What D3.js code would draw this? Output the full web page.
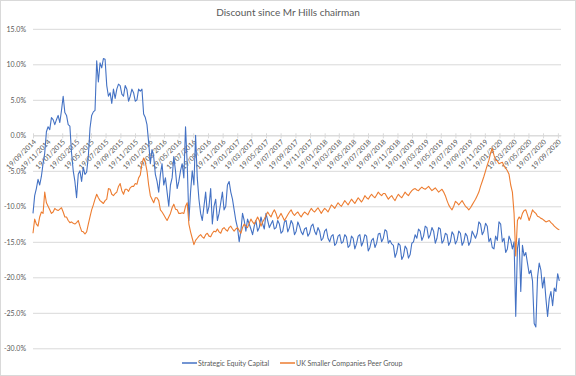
<!DOCTYPE html>
<html>
<head>
<meta charset="utf-8">
<script src="https://cdnjs.cloudflare.com/ajax/libs/d3/7.8.5/d3.min.js"></script>
<style>
  body { margin: 0; background: #fff; }
  text { font-family: Lato, "Liberation Sans", sans-serif; fill: #595959; }
</style>
</head>
<body>
<div id="container"></div>
<script>
// data: weekly readings, % discount (10 weeks per row)
var startDate = "19/09/2014",
    endDate = "02/10/2020",
    stepDays = 7;

var secValues = [
  -11, -8.5, -7.5, -6.2, -7, -5.8, -4, -2.5, 0.5, 1.2,
  0.8, 2.5, 2.2, 1.5, 2.2, 2.8, 1.8, 3.5, 5.5, 3.2,
  2.8, 1.5, 1.3, -2.5, -5, -6.5, -8.8, -5.5, -5, -6.5,
  -4.5, -5.5, -5.2, -3, 1, 2.8, 3.3, 3.5, 10.5, 7.5,
  10.2, 9.5, 10.8, 10.7, 7, 5.5, 6, 4.5, 6.5, 5.2,
  6.5, 7.2, 7, 5.8, 5.5, 7, 6.5, 4.8, 5.5, 6.5,
  6, 4.8, 5, 6.5, 6.2, 6.5, 3, 2.5, 1.5, -1,
  -4, -2, -3, -5.5, -6.5, -8, -5.5, -4, -7, -6,
  -8, -10, -7, -6, -3, -5, -7.5, -6.5, -5, -4,
  -6, 1.2, -4, -12, -8, -5, -7, 0, -6, -9,
  -11, -12, -10, -8, -11, -10, -7.5, -12.5, -10, -9,
  -12, -11, -9.5, -8, -10.5, -10, -7, -6.5, -8, -9,
  -10.5, -12, -13, -15, -13.5, -11, -12, -13.5, -11.8, -12.5,
  -13.2, -14, -12.8, -12, -13.5, -13, -11.5, -12.5, -13.2, -11,
  -12, -13, -12.5, -12, -13.2, -13, -12, -12.5, -13.8, -13.5,
  -12.2, -12, -13.6, -13, -12, -12.5, -14, -13.5, -12.2, -12.8,
  -13.6, -14, -13.2, -13, -14.2, -13.8, -12.8, -12.5, -13.5, -14,
  -13, -13.5, -14.8, -14.5, -13.5, -13.2, -14.5, -15, -14.2, -14,
  -15.5, -15.2, -14.2, -14, -15.2, -15, -14, -14.3, -15.8, -15.5,
  -14.2, -14.5, -16, -15.3, -14.2, -14, -15.6, -15, -14, -14.2,
  -16.3, -15.8, -14.8, -14.5, -15.8, -15.2, -13.9, -13.8, -15, -14.5,
  -13.3, -13.5, -15.2, -14.8, -15.3, -15.5, -17.2, -16.5, -15.2, -15.5,
  -17.5, -17, -15.6, -16, -17.3, -16.8, -15.2, -15, -14, -14.5,
  -13.2, -13.5, -14.8, -14.2, -12.8, -13, -14.5, -14, -13, -13.5,
  -15.2, -14.5, -13, -13.2, -15.2, -14.8, -13.8, -14, -15.5, -15,
  -13.6, -14, -15.3, -14.8, -13.5, -13.8, -15.5, -15, -13.8, -14.2,
  -15.5, -15, -13.5, -14, -14.5, -13.8, -12.2, -12.5, -14, -13.5,
  -12.4, -12.8, -15, -14.5, -15.8, -16, -14.2, -14.8, -12.2, -12.5,
  -15, -14.5, -16.5, -16, -14.2, -14.8, -16, -15, -25.5, -16,
  -14.5, -22, -15.5, -17, -16.5, -18, -19.5, -19, -20.5, -26.5,
  -27, -20, -18, -19, -21.5, -20, -23, -25.5, -23, -22,
  -24, -21.5, -22, -19.5, -20.5
];

var peerValues = [
  -13.8, -11.8, -12.5, -12.8, -11.5, -10.8, -11, -8, -9.5, -10,
  -10.5, -11, -10.8, -10.3, -10.5, -10.6, -10.4, -10.2, -10.8, -11.5,
  -11.5, -12, -12.3, -12.2, -12.4, -12.5, -12.3, -12, -12.8, -13.5,
  -13.6, -13.9, -13.6, -12.5, -11.5, -10.5, -9.8, -9, -8.3, -8.8,
  -9.2, -9.4, -9.6, -9.2, -9, -7.5, -7.6, -8.3, -8.5, -8.2,
  -8, -7.2, -6.8, -7.8, -8.3, -7.6, -7.6, -7.9, -7.4, -7.2,
  -7.2, -6.8, -6.9, -6, -5.6, -4, -3.2, -3.8, -5, -7,
  -8.5, -9, -9.5, -8.8, -8.8, -9.2, -10.5, -10.8, -11.2, -11.6,
  -12, -11.5, -11, -10.2, -9.7, -10.4, -10.5, -11, -11, -10.9,
  -11, -10, -9.5, -12.5, -13.6, -14.5, -15.4, -14.8, -14.5, -14.2,
  -14, -14.3, -14.5, -14, -13.8, -14.2, -14.3, -13.8, -13.5, -13.6,
  -13.2, -13.6, -13.8, -13.2, -13, -13.3, -13.5, -13, -12.8, -13.2,
  -13.5, -13.2, -13, -13.4, -13.8, -13, -12.5, -12.8, -13, -12.4,
  -11.8, -12.2, -12.5, -12, -11.5, -12, -12.8, -12.2, -11.8, -11.3,
  -10.8, -11.2, -11.5, -10.9, -10.5, -11, -11.8, -11.4, -11, -11.5,
  -12, -11.6, -11.2, -10.8, -10.5, -11, -11.3, -11, -10.8, -11.2,
  -11.5, -11.1, -10.8, -11, -11.2, -10.7, -10.3, -10.6, -10.8, -10.5,
  -10.2, -10.6, -11, -10.6, -10.3, -10.5, -10.8, -10.3, -9.8, -10,
  -10.3, -9.9, -9.5, -9.8, -10, -9.6, -9.2, -9.5, -9.8, -9.4,
  -9, -9.3, -9.6, -9.2, -8.8, -9.1, -9.4, -9, -8.5, -8.8,
  -9, -8.6, -8.3, -8.6, -8.8, -8.4, -8, -8.3, -8.5, -8.2,
  -8.2, -8.6, -9, -8.7, -8.5, -8.9, -9.2, -8.7, -8.3, -8.6,
  -8.8, -8.4, -8, -8.3, -8.5, -8.1, -7.8, -7.6, -7.5, -7.7,
  -7.8, -7.5, -7.3, -7.5, -7.6, -7.4, -7.2, -7.5, -7.8, -7.6,
  -7.4, -7.7, -8, -7.8, -7.6, -8, -8.5, -9.2, -9.8, -10.2,
  -10.5, -10, -9.3, -9.5, -9.8, -9.5, -9.2, -9.6, -10, -10.2,
  -10.5, -10.2, -9.8, -9.4, -9, -8.5, -8, -7.2, -6.5, -5.8,
  -5, -4.2, -3.5, -2.5, -1.8, -2.8, -3.5, -3.6, -4, -3.9,
  -3.8, -4.3, -4.6, -5, -5.5, -7, -8, -11, -17, -12,
  -11.5, -11.8, -11, -10.6, -10.5, -11.2, -12, -11.3, -10.5, -10.8,
  -11, -11.4, -11.5, -11.7, -11.8, -12, -12.2, -12.1, -12, -12.3,
  -12.5, -12.8, -13, -13.2, -13.3
];

var seriesNames = ["Strategic Equity Capital", "UK Smaller Companies Peer Group"];
var seriesColors = ["#4472c4", "#ed7d31"];

var yTicks = [15, 10, 5, 0, -5, -10, -15, -20, -25, -30];

var xTickLabels = [
  "19/09/2014", "19/11/2014", "19/01/2015", "19/03/2015", "19/05/2015", "19/07/2015",
  "19/09/2015", "19/11/2015", "19/01/2016", "19/03/2016", "19/05/2016", "19/07/2016",
  "19/09/2016", "19/11/2016", "19/01/2017", "19/03/2017", "19/05/2017", "19/07/2017",
  "19/09/2017", "19/11/2017", "19/01/2018", "19/03/2018", "19/05/2018", "19/07/2018",
  "19/09/2018", "19/11/2018", "19/01/2019", "19/03/2019", "19/05/2019", "19/07/2019",
  "19/09/2019", "19/11/2019", "19/01/2020", "19/03/2020", "19/05/2020", "19/07/2020",
  "19/09/2020"
];

var W = 576, H = 376;
var plot = {left: 33, right: 561, top: 28.8, bottom: 348.3};

var parseDate = d3.timeParse("%d/%m/%Y");
var t0 = parseDate(startDate);

function toPoints(values) {
  return values.map(function(v, i) {
    return {date: d3.timeDay.offset(t0, i * stepDays), value: v};
  });
}
var series = [toPoints(secValues), toPoints(peerValues)];

var xScale = d3.scaleTime()
  .domain([t0, parseDate(endDate)])
  .range([plot.left, plot.right]);

var yScale = d3.scaleLinear()
  .domain([-30, 15])
  .range([plot.bottom, plot.top]);

var svg = d3.select("#container").append("svg")
  .attr("width", W)
  .attr("height", H);

// chart border
svg.append("rect")
  .attr("x", 0.5).attr("y", 0.5)
  .attr("width", W - 1).attr("height", H - 1)
  .attr("fill", "#fff")
  .attr("stroke", "#d9d9d9");

// title
svg.append("text")
  .attr("x", 288)
  .attr("y", 16)
  .attr("text-anchor", "middle")
  .style("font-size", "10px")
  .text("Discount since Mr Hills chairman");

// gridlines + y labels
var yAxis = d3.axisLeft(yScale)
  .tickValues(yTicks)
  .tickSize(-(plot.right - plot.left))
  .tickPadding(7)
  .tickFormat(function(d) { return (d < 0 ? "-" : "") + Math.abs(d).toFixed(1) + "%"; });

svg.append("g")
  .attr("class", "y axis")
  .attr("transform", "translate(" + plot.left + ",0)")
  .call(yAxis)
  .call(function(g) {
    g.select(".domain").remove();
    g.selectAll(".tick line").attr("stroke", "#d9d9d9");
    g.selectAll(".tick text").style("font-size", "7px").attr("fill", "#595959").attr("font-family", null);
  });

// date axis sitting on the 0% line
var xTicks = xTickLabels.map(parseDate);
var xAxis = d3.axisBottom(xScale)
  .tickValues(xTicks)
  .tickSizeInner(3)
  .tickSizeOuter(0)
  .tickFormat(d3.timeFormat("%d/%m/%Y"));

svg.append("g")
  .attr("class", "x axis")
  .attr("transform", "translate(0," + yScale(0) + ")")
  .call(xAxis)
  .call(function(g) {
    g.select(".domain").attr("stroke", "#d9d9d9");
    g.selectAll(".tick line").attr("stroke", "#d9d9d9").attr("y1", -2);
    g.selectAll(".tick text")
      .attr("font-family", null)
      .style("font-size", "7px")
      .attr("fill", "#6b6b80")
      .attr("text-anchor", "end")
      .attr("dy", null)
      .attr("y", 0)
      .attr("transform", "translate(3,7) rotate(-45)");
  });

// lines
var line = d3.line()
  .x(function(d) { return xScale(d.date); })
  .y(function(d) { return yScale(d.value); });

svg.selectAll(".series")
  .data(series)
  .enter()
  .append("path")
    .attr("class", "series")
    .attr("d", line)
    .attr("fill", "none")
    .attr("stroke", function(d, i) { return seriesColors[i]; })
    .attr("stroke-width", 1.1)
    .attr("stroke-linejoin", "round");

// legend
var legendX = [182, 280];
var legend = svg.selectAll(".legend")
  .data(seriesNames)
  .enter()
  .append("g")
    .attr("class", "legend")
    .attr("transform", function(d, i) { return "translate(" + legendX[i] + ",363)"; });

legend.append("line")
  .attr("x1", 0).attr("x2", 15)
  .attr("stroke", function(d, i) { return seriesColors[i]; })
  .attr("stroke-width", 1.5);

legend.append("text")
  .attr("x", 16)
  .attr("y", 2.5)
  .style("font-size", "7px")
  .text(function(d) { return d; });
</script>
</body>
</html>
